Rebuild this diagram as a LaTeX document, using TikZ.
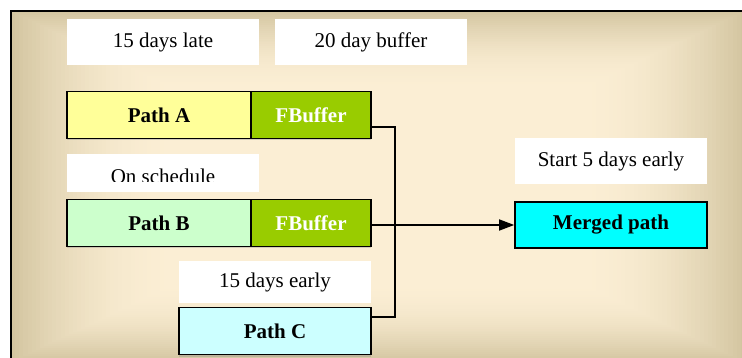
\documentclass[tikz,border=0pt]{standalone}
\usepackage{fontspec}
\setmainfont{Liberation Serif}
\usetikzlibrary{arrows.meta,shadows}

\definecolor{bgin}{HTML}{FBEED4}
\definecolor{bgout}{HTML}{D3C5A0}
\definecolor{pathAfill}{HTML}{FFFF99}
\definecolor{pathBfill}{HTML}{CCFFCC}
\definecolor{pathCfill}{HTML}{CCFFFF}
\definecolor{bufferfill}{HTML}{99CC00}
\definecolor{mergedfill}{HTML}{00FFFF}

\begin{document}
\begin{tikzpicture}[x=1pt,y=-1pt,
  txt/.style={font=\fontsize{21}{24}\selectfont},
  boldtxt/.style={font=\fontsize{21}{24}\selectfont\bfseries},
  tagbox/.style={txt, fill=white, inner sep=0pt, minimum width=192pt, minimum height=46pt},
  taskbox/.style={boldtxt, draw=black, line width=1.6pt, inner sep=0pt, minimum height=47pt,
    drop shadow={shadow xshift=0pt, shadow yshift=-2pt, opacity=0.3}},
  bufbox/.style={taskbox, fill=bufferfill, text=white, minimum width=120pt},
  link/.style={line width=1.5pt, draw=black}
]
\useasboundingbox (0,0) rectangle (742,358);
\clip (0,0) rectangle (742,358);

% slide background: rectangular gradient, tan at the rim, cream in the middle
\foreach \i in {0,...,40}{
  \pgfmathsetmacro\f{\i/40}
  \pgfmathsetmacro\p{100*(1-(1-\f)^2)}
  \pgfmathsetmacro\dx{0.45*367*\f}
  \pgfmathsetmacro\dy{0.45*175*\f}
  \fill[bgin!\p!bgout] ({11+\dx},{11+\dy}) rectangle ({745-\dx},{362-\dy});
}
% slide frame
\draw[line width=2pt] (11,380) -- (11,11) -- (760,11);

% captions
\node[tagbox] (late)  at (163,42) {15 days late};
\node[tagbox] (buf)   at (371,42) {20 day buffer};
\node[tagbox, minimum height=38pt] (sched) at (163,173) {};
\node[txt, anchor=base, inner sep=0pt] (schedlbl) at (163,183.5) {On schedule};
\fill[white] (sched.west |- 0,182.5) rectangle (sched.south east);
\node[tagbox, minimum height=42pt] (early) at (275,282) {15 days early};
\node[tagbox] (start) at (611,161) {Start 5 days early};

% paths and feeding buffers
\node[taskbox, fill=pathAfill, minimum width=184pt] (pathA) at (159,115) {Path A};
\node[bufbox] (fbA) at (311,115) {FBuffer};
\node[taskbox, fill=pathBfill, minimum width=184pt] (pathB) at (159,223) {Path B};
\node[bufbox] (fbB) at (311,223) {FBuffer};
\node[taskbox, fill=pathCfill, minimum width=192pt] (pathC) at (275,331) {Path C};
\node[boldtxt, draw=black, line width=1.6pt, fill=mergedfill, inner sep=0pt,
      minimum width=192pt, minimum height=46pt] (merged) at (611,225) {Merged path};

% merge connectors
\coordinate (bus) at (395,0);
\coordinate (aout) at ([yshift=-12pt]fbA.east);
\coordinate (cout) at ([yshift=14pt]pathC.east);
\draw[link] (aout) -| (bus |- cout) -- (cout);
\draw[link, -{Triangle[length=15pt,width=11pt]}] (fbB.east |- merged.west) -- (merged.west);
\end{tikzpicture}
\end{document}
